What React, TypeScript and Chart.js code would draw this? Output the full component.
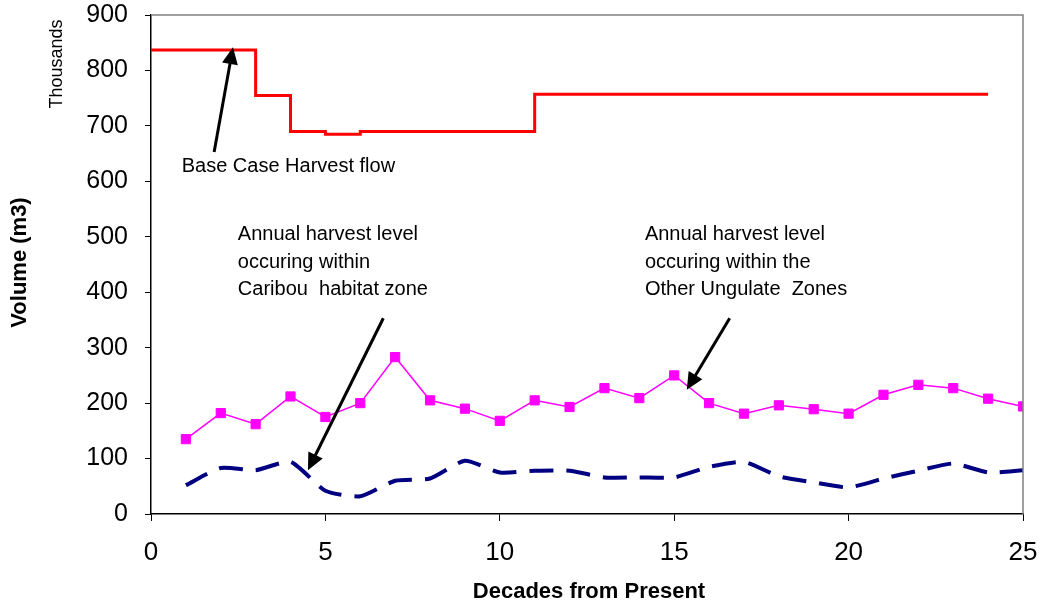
import { useEffect, useRef } from "react";
import { Chart, registerables } from "chart.js";

Chart.register(...registerables);

const FONT = "'Liberation Sans', Arial, sans-serif";

// Base case harvest flow (thousands of m3), stepped by decade
const baseCaseDecades = [0, 1, 2, 3, 4, 5, 6, 7, 8, 9, 10, 11, 12, 13, 14, 15, 16, 17, 18, 19, 20, 21, 22, 23, 24];
const baseCaseFlow = [837, 837, 837, 755, 690, 685, 690, 690, 690, 690, 690, 757, 757, 757, 757, 757, 757, 757, 757, 757, 757, 757, 757, 757, 757];

// Annual harvest within habitat zones (thousands of m3)
const zoneDecades = [1, 2, 3, 4, 5, 6, 7, 8, 9, 10, 11, 12, 13, 14, 15, 16, 17, 18, 19, 20, 21, 22, 23, 24, 25];
const otherUngulateHarvest = [135, 182, 162, 212, 175, 200, 283, 205, 190, 168, 205, 193, 227, 209, 250, 200, 181, 196, 189, 181, 215, 233, 227, 208, 194];
const caribouHarvest = [52, 83, 79, 94, 42, 32, 60, 64, 96, 75, 78, 78, 66, 66, 66, 85, 94, 68, 57, 48, 64, 78, 91, 75, 79];

// Callout text and arrows, anchored in data units (decade, volume)
const callouts = [
  { x: 0.88, y: 617, lines: ["Base Case Harvest flow"] },
  { x: 2.49, y: 494, lines: ["Annual harvest level", "occuring within", "Caribou  habitat zone"] },
  { x: 14.16, y: 494, lines: ["Annual harvest level", "occuring within the", "Other Ungulate  Zones"] },
];
const arrows = [
  { fromX: 1.81, fromY: 653, toX: 2.35, toY: 842 },
  { fromX: 6.66, fromY: 353, toX: 4.5, toY: 79 },
  { fromX: 16.59, fromY: 353, toX: 15.36, toY: 224 },
];

const pairs = (xs: number[], ys: number[]) => xs.map((x, i) => ({ x, y: ys[i] }));

const noOverhang = (scale: any) => {
  scale.paddingTop = 0;
  scale.paddingBottom = 0;
  scale.paddingLeft = 0;
  scale.paddingRight = 0;
};

const decorations = {
  id: "decorations",
  afterDatasetsDraw(chart: any) {
    const { ctx, chartArea, scales } = chart;
    const xs = scales.x;
    const ys = scales.y;
    ctx.save();

    // plot-area frame on top and right
    ctx.strokeStyle = "#808080";
    ctx.lineWidth = 1.5;
    ctx.beginPath();
    ctx.moveTo(chartArea.left, chartArea.top);
    ctx.lineTo(chartArea.right, chartArea.top);
    ctx.lineTo(chartArea.right, chartArea.bottom);
    ctx.stroke();

    // arrows
    ctx.strokeStyle = "#000";
    ctx.fillStyle = "#000";
    ctx.lineWidth = 3;
    for (const a of arrows) {
      const x0 = xs.getPixelForValue(a.fromX);
      const y0 = ys.getPixelForValue(a.fromY);
      const x1 = xs.getPixelForValue(a.toX);
      const y1 = ys.getPixelForValue(a.toY);
      const ang = Math.atan2(y1 - y0, x1 - x0);
      const headLen = 17;
      const headHalf = 8;
      const bx = x1 - headLen * Math.cos(ang);
      const by = y1 - headLen * Math.sin(ang);
      ctx.beginPath();
      ctx.moveTo(x0, y0);
      ctx.lineTo(bx + 2 * Math.cos(ang), by + 2 * Math.sin(ang));
      ctx.stroke();
      ctx.beginPath();
      ctx.moveTo(x1, y1);
      ctx.lineTo(bx + headHalf * Math.sin(ang), by - headHalf * Math.cos(ang));
      ctx.lineTo(bx - headHalf * Math.sin(ang), by + headHalf * Math.cos(ang));
      ctx.closePath();
      ctx.fill();
    }

    // callout text
    ctx.font = `20px ${FONT}`;
    ctx.textAlign = "left";
    ctx.textBaseline = "alphabetic";
    for (const c of callouts) {
      const px = xs.getPixelForValue(c.x);
      const py = ys.getPixelForValue(c.y);
      c.lines.forEach((line, i) => ctx.fillText(line, px, py + i * 27.5));
    }

    // axis titles and units note
    ctx.textAlign = "center";
    ctx.textBaseline = "middle";
    ctx.font = `bold 22px ${FONT}`;
    ctx.fillText("Decades from Present", (chartArea.left + chartArea.right) / 2 + 2, 592);

    ctx.save();
    ctx.translate(20, (chartArea.top + chartArea.bottom) / 2 - 2);
    ctx.rotate(-Math.PI / 2);
    ctx.fillText("Volume (m3)", 0, 0);
    ctx.restore();

    ctx.save();
    ctx.translate(57, 64);
    ctx.rotate(-Math.PI / 2);
    ctx.font = `18px ${FONT}`;
    ctx.fillText("Thousands", 0, 0);
    ctx.restore();

    ctx.restore();
  },
};

export default function App() {
  const canvasRef = useRef<HTMLCanvasElement | null>(null);

  useEffect(() => {
    const canvas = canvasRef.current;
    if (!canvas) return;
    const chart = new Chart(canvas, {
      type: "line",
      data: {
        datasets: [
          {
            label: "Base Case Harvest flow",
            data: pairs(baseCaseDecades, baseCaseFlow),
            borderColor: "#FF0000",
            borderWidth: 3,
            stepped: true,
            pointRadius: 0,
            fill: false,
          },
          {
            label: "Other Ungulate Zones",
            data: pairs(zoneDecades, otherUngulateHarvest),
            borderColor: "#FF00FF",
            borderWidth: 1.5,
            pointStyle: "rect",
            pointRadius: 6.5,
            pointBackgroundColor: "#FF00FF",
            pointBorderColor: "#FF00FF",
            pointBorderWidth: 1,
            tension: 0,
            fill: false,
          },
          {
            label: "Caribou habitat zone",
            data: pairs(zoneDecades, caribouHarvest),
            borderColor: "#000080",
            borderWidth: 4,
            borderDash: [24, 13],
            borderCapStyle: "butt",
            pointRadius: 0,
            tension: 0.2,
            fill: false,
          },
        ],
      },
      options: {
        animation: false,
        responsive: false,
        events: [],
        layout: { padding: { left: 0, right: 21, top: 15, bottom: 0 } },
        plugins: {
          legend: { display: false },
          tooltip: { enabled: false },
          title: { display: false },
        },
        scales: {
          x: {
            type: "linear",
            min: 0,
            max: 25,
            ticks: {
              stepSize: 5,
              color: "#000",
              font: { family: FONT, size: 26 },
              padding: 16,
              maxRotation: 0,
            },
            grid: { drawOnChartArea: false, drawTicks: true, tickLength: 7, color: "#000" },
            border: { display: true, color: "#000", width: 1.5 },
            afterFit: (scale: any) => {
              scale.height = 95;
              noOverhang(scale);
            },
          },
          y: {
            min: 0,
            max: 900,
            ticks: {
              stepSize: 100,
              color: "#000",
              font: { family: FONT, size: 25 },
              padding: 17,
            },
            grid: { drawOnChartArea: false, drawTicks: true, tickLength: 6, color: "#000" },
            border: { display: true, color: "#000", width: 1.5 },
            afterFit: (scale: any) => {
              scale.width = 151;
              noOverhang(scale);
            },
          },
        },
      },
      plugins: [decorations],
    });
    return () => chart.destroy();
  }, []);

  return (
    <div style={{ position: "absolute", left: 0, top: 0, width: 1044, height: 609, background: "#fff" }}>
      <canvas ref={canvasRef} width={1044} height={609} style={{ display: "block" }} />
    </div>
  );
}
